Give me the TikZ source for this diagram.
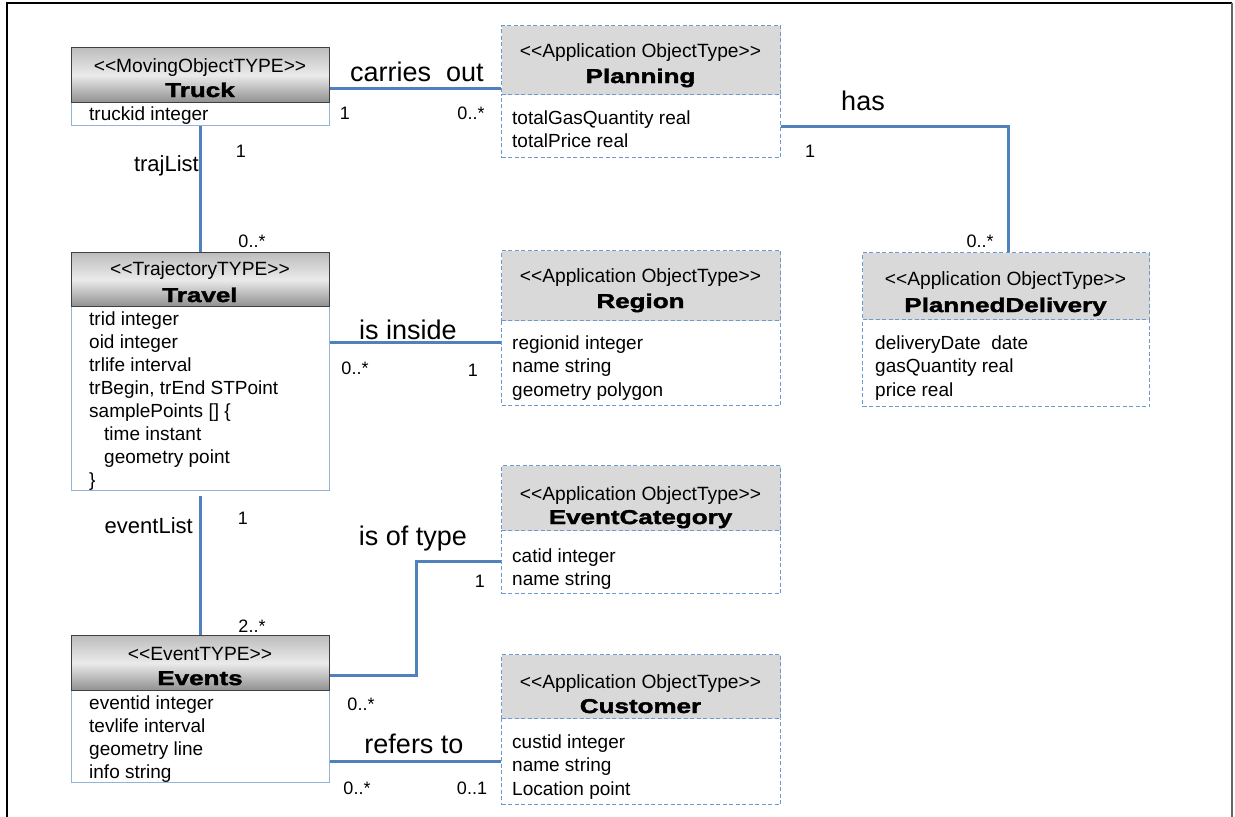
\documentclass[tikz,border=0pt]{standalone}
\usepackage{fontspec}
\setmainfont{Liberation Sans}
\newfontface\namefont{Liberation Sans Bold}[FakeStretch=1.3,FakeBold=2]
\usetikzlibrary{calc}
\definecolor{connc}{HTML}{4F81BD}
\definecolor{bodyb}{HTML}{95B3D7}
\definecolor{dashb}{HTML}{6A9AD0}
\definecolor{appheadc}{HTML}{D9D9D9}
\definecolor{darkb}{HTML}{404040}
\newcommand\stt[1]{<{}<#1>{}>}
\tikzset{
  conn/.style={draw=connc, line width=3pt},
  boxbase/.style={rectangle, inner sep=0pt, anchor=north west},
  darkhead/.style={boxbase, draw=darkb, line width=1.3pt, top color=black!26, bottom color=black!44, middle color=black!8},
  darkbody/.style={boxbase, draw=bodyb, line width=1.3pt, fill=white},
  apphead/.style={boxbase, draw=dashb, dash pattern=on 4pt off 2.5pt, fill=appheadc, line width=1.1pt},
  appbody/.style={boxbase, draw=dashb, dash pattern=on 4pt off 2.5pt, fill=white, line width=1.1pt},
  stereo/.style={font=\fontsize{19.2}{21}\selectfont, anchor=base, inner sep=0pt},
  cname/.style={font=\namefont\fontsize{20}{22}\selectfont, anchor=base, inner sep=0pt},
  attr/.style={font=\fontsize{19}{23}\selectfont, anchor=base west, inner sep=0pt},
  assoc/.style={font=\fontsize{27}{30}\selectfont, anchor=base, inner sep=0pt},
  mult/.style={font=\fontsize{18}{20}\selectfont, anchor=base, inner sep=0pt},
  role/.style={font=\fontsize{22}{24}\selectfont, anchor=base east, inner sep=0pt},
}
\begin{document}
\begin{tikzpicture}[x=1pt,y=-1pt]
\useasboundingbox (0,0) rectangle (1235,817);
% frame
\draw[line width=1.2pt] (7,817) -- (7,3) -- (1232,3);
\draw[line width=2.5pt, black!60] (1232,3) -- (1232,817);

% ---- boxes
% Truck
\node[darkbody, minimum width=258, minimum height=23] (truckB) at (71,102) {};
\node[darkhead, minimum width=258, minimum height=55] (truckH) at (71,47) {};
% Planning
\node[appbody, minimum width=279, minimum height=63] (planB) at (501,94) {};
\node[apphead, minimum width=279, minimum height=69] (planH) at (501,25) {};
% Travel
\node[darkbody, minimum width=258, minimum height=184] (travB) at (71,306) {};
\node[darkhead, minimum width=258, minimum height=54] (travH) at (71,252) {};
% Region
\node[appbody, minimum width=279, minimum height=85] (regB) at (501,320) {};
\node[apphead, minimum width=279, minimum height=70] (regH) at (501,250) {};
% PlannedDelivery
\node[appbody, minimum width=287, minimum height=87] (pdB) at (862,319) {};
\node[apphead, minimum width=287, minimum height=67] (pdH) at (862,252) {};
% EventCategory
\node[appbody, minimum width=279, minimum height=63] (ecB) at (501,530) {};
\node[apphead, minimum width=279, minimum height=65] (ecH) at (501,465) {};
% Events
\node[darkbody, minimum width=258, minimum height=92] (evB) at (71,690) {};
\node[darkhead, minimum width=258, minimum height=55] (evH) at (71,635) {};
% Customer
\node[appbody, minimum width=279, minimum height=86] (custB) at (501,718) {};
\node[apphead, minimum width=279, minimum height=64] (custH) at (501,654) {};

% ---- headers
\node[stereo] (truckS) at (200,72) {\stt{MovingObjectTYPE}};
\node[cname] (truckN) at (200,97) {Truck};
\node[stereo] (planS) at (640.5,57) {\stt{Application ObjectType}};
\node[cname] (planN) at (640.5,83) {Planning};
\node[stereo] (travS) at (200,275) {\stt{TrajectoryTYPE}};
\node[cname] (travN) at (200,302) {Travel};
\node[stereo] (regS) at (640.5,282) {\stt{Application ObjectType}};
\node[cname] (regN) at (640.5,308) {Region};
\node[stereo] (pdS) at (1005.5,285) {\stt{Application ObjectType}};
\node[cname] (pdN) at (1005.5,312) {PlannedDelivery};
\node[stereo] (ecS) at (640.5,500) {\stt{Application ObjectType}};
\node[cname] (ecN) at (640.5,524) {EventCategory};
\node[stereo] (evS) at (200,660) {\stt{EventTYPE}};
\node[cname] (evN) at (200,685) {Events};
\node[stereo] (custS) at (640.5,688) {\stt{Application ObjectType}};
\node[cname] (custN) at (640.5,713) {Customer};

% ---- attributes
\node[attr] (truckA0) at (89,120) {truckid integer};
\foreach \t [count=\i from 0] in {totalGasQuantity real, totalPrice real}
  \node[attr] (planA\i) at (512,124+23*\i) {\t};
\node[attr] (travA0) at (89,325) {trid integer};
\node[attr] (travA1) at (89,348) {oid integer};
\node[attr] (travA2) at (89,371) {trlife interval};
\node[attr] (travA3) at (89,394) {trBegin, trEnd STPoint};
\node[attr] (travA4) at (89,417) {samplePoints [] \{};
\node[attr] (travA5) at (104,440) {time instant};
\node[attr] (travA6) at (104,463) {geometry point};
\node[attr] (travA7) at (89,486) {\}};
\foreach \t [count=\i from 0] in {regionid integer, name string, geometry polygon}
  \node[attr] (regA\i) at (512,349+23.5*\i) {\t};
\foreach \t [count=\i from 0] in {deliveryDate~~date, gasQuantity real, price real}
  \node[attr] (pdA\i) at (875,349+23.5*\i) {\t};
\foreach \t [count=\i from 0] in {catid integer, name string}
  \node[attr] (ecA\i) at (512,562+23*\i) {\t};
\foreach \t [count=\i from 0] in {eventid integer, tevlife interval, geometry line, info string}
  \node[attr] (evA\i) at (89,709+23*\i) {\t};
\foreach \t [count=\i from 0] in {custid integer, name string, Location point}
  \node[attr] (custA\i) at (512,748+23.5*\i) {\t};

% ---- connectors
\draw[conn] (truckH.east |- 0,88) -- (planH.west |- 0,88);
\draw[conn] (truckB.south) -- (travH.north);
\draw[conn] (planB.east |- 0,126) -| ($(pdH.north)+(2.5,0)$);
\draw[conn] (travB.east |- 0,342) -- (regB.west |- 0,342);
\draw[conn] ($(travB.south)+(0,5)$) -- (evH.north);
\coordinate (bend) at (416,618);
\draw[conn] (evH.east |- 0,675) -| (bend) |- (ecB.west |- 0,561);
\draw[conn] (evB.east |- 0,761) -- (custB.west |- 0,761);

% ---- association labels
\node[assoc] (lcarries) at (417,81) {carries~~out};
\node[mult] (m1) at (345,119) {1};
\node[mult] (m2) at (471,119) {0..*};
\node[role] (ltraj) at (199,171) {trajList};
\node[mult] (m3) at (241,157) {1};
\node[mult] (m4) at (252,247) {0..*};
\node[assoc] (lhas) at (863,110) {has};
\node[mult] (m5) at (810,157) {1};
\node[mult] (m6) at (980,247) {0..*};
\node[assoc] (linside) at (408,339) {is inside};
\node[mult] (m7) at (355,374) {0..*};
\node[mult] (m8) at (473,376) {1};
\node[role] (levent) at (193,533) {eventList};
\node[mult] (m9) at (243,524) {1};
\node[mult] (m10) at (252,632) {2..*};
\node[assoc] (ltype) at (413,545) {is of type};
\node[mult] (m11) at (480,587) {1};
\node[mult] (m12) at (361,710) {0..*};
\node[assoc] (lrefers) at (414,753) {refers to};
\node[mult] (m13) at (357,794) {0..*};
\node[mult] (m14) at (472,794) {0..1};
\end{tikzpicture}
\end{document}
